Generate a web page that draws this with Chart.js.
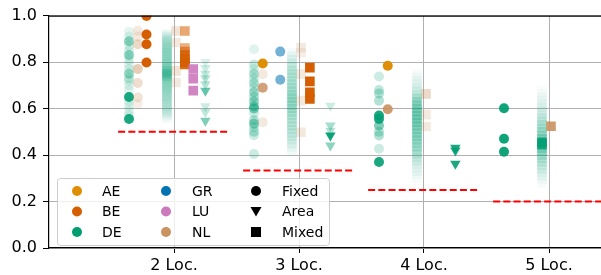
<!DOCTYPE html>
<html>
<head>
<meta charset="utf-8">
<script src="https://cdn.jsdelivr.net/npm/chart.js@4"></script>
<style>
  html, body { margin: 0; padding: 0; background: #fff; }
  canvas { display: block; }
</style>
</head>
<body>
<canvas id="chart" width="601" height="275"></canvas>
<script>
// x categories (number of locations) and their tick labels
const locCounts = [2, 3, 4, 5];
const xTickLabels = ['2 Loc.', '3 Loc.', '4 Loc.', '5 Loc.'];
const yTicks = [0, 0.2, 0.4, 0.6, 0.8, 1.0];

// expected share 1/n, shown as red dashed lines
const baselineShare = [0.5, 0.333, 0.25, 0.2];

// values per location group (2,3,4,5 Loc.) and their weights (read as opacity)
const deFixed = [
  [0.93, 0.91, 0.89, 0.87, 0.85, 0.83, 0.81, 0.79, 0.77, 0.75, 0.73, 0.72, 0.70, 0.68, 0.65, 0.63, 0.61, 0.59, 0.57, 0.555],
  [0.855, 0.79, 0.77, 0.75, 0.73, 0.71, 0.69, 0.67, 0.65, 0.63, 0.61, 0.60, 0.58, 0.55, 0.535, 0.52, 0.50, 0.485, 0.405],
  [0.738, 0.68, 0.665, 0.634, 0.57, 0.555, 0.527, 0.50, 0.484, 0.427, 0.37],
  [0.601, 0.47, 0.414]
];
const deFixedW = [
  [0.1, 0.12, 0.45, 0.15, 0.15, 0.45, 0.15, 0.12, 0.15, 0.4, 0.2, 0.15, 0.12, 0.12, 0.9, 0.15, 0.12, 0.12, 0.15, 0.9],
  [0.12, 0.2, 0.15, 0.3, 0.2, 0.3, 0.2, 0.35, 0.3, 0.4, 0.45, 0.5, 0.2, 0.3, 0.45, 0.2, 0.3, 0.2, 0.2],
  [0.2, 0.25, 0.3, 0.3, 0.9, 0.9, 0.5, 0.3, 0.3, 0.2, 0.9],
  [0.95, 0.95, 0.95]
];
const aeFixed = [[], [0.794], [0.784], []];
const aeFixedW = [[], [1], [1], []];
const nlFixed = [
  [0.935, 0.91, 0.877, 0.77, 0.71, 0.648, 0.62],
  [0.748, 0.69, 0.541],
  [0.597],
  []
];
const nlFixedW = [
  [0.2, 0.2, 0.35, 0.45, 0.3, 0.25, 0.15],
  [0.2, 0.85, 0.2],
  [0.9],
  []
];
const beFixed = [[0.998, 0.919, 0.877, 0.798], [], [], []];
const beFixedW = [[1, 1, 1, 1], [], [], []];
const grFixed = [[], [0.845, 0.724], [], []];
const grFixedW = [[], [0.55, 0.55], [], []];

const deMixed = [
  [0.92, 0.91, 0.90, 0.89, 0.88, 0.87, 0.86, 0.85, 0.84, 0.83, 0.82, 0.81, 0.80, 0.79, 0.78, 0.77, 0.76, 0.75, 0.74, 0.73, 0.72, 0.71, 0.70, 0.69, 0.68, 0.67, 0.66, 0.65, 0.64, 0.63, 0.62, 0.61, 0.60, 0.59, 0.58, 0.57, 0.56],
  [0.84, 0.825, 0.81, 0.795, 0.78, 0.765, 0.75, 0.735, 0.72, 0.705, 0.69, 0.675, 0.66, 0.645, 0.63, 0.615, 0.60, 0.585, 0.57, 0.555, 0.54, 0.525, 0.51, 0.495, 0.48, 0.465, 0.45, 0.435, 0.42],
  [0.75, 0.735, 0.72, 0.705, 0.69, 0.675, 0.66, 0.645, 0.63, 0.615, 0.60, 0.585, 0.57, 0.555, 0.54, 0.525, 0.51, 0.495, 0.48, 0.465, 0.45, 0.435, 0.42, 0.405, 0.39, 0.375, 0.36, 0.345, 0.33, 0.315, 0.30],
  [0.68, 0.665, 0.65, 0.635, 0.62, 0.605, 0.59, 0.575, 0.56, 0.545, 0.53, 0.515, 0.50, 0.485, 0.47, 0.455, 0.445, 0.43, 0.415, 0.40, 0.385, 0.37, 0.355, 0.34, 0.325, 0.31, 0.295, 0.28]
];
const deMixedW = [
  [0.08, 0.1, 0.1, 0.12, 0.12, 0.15, 0.15, 0.15, 0.15, 0.15, 0.15, 0.15, 0.15, 0.15, 0.2, 0.2, 0.3, 0.35, 0.3, 0.2, 0.15, 0.15, 0.15, 0.15, 0.15, 0.12, 0.12, 0.12, 0.12, 0.1, 0.1, 0.1, 0.1, 0.08, 0.08, 0.06, 0.05],
  [0.04, 0.06, 0.08, 0.1, 0.12, 0.14, 0.15, 0.15, 0.15, 0.16, 0.18, 0.18, 0.2, 0.22, 0.22, 0.2, 0.2, 0.18, 0.16, 0.15, 0.15, 0.14, 0.14, 0.12, 0.12, 0.1, 0.08, 0.06, 0.05],
  [0.03, 0.04, 0.05, 0.06, 0.08, 0.1, 0.12, 0.2, 0.25, 0.25, 0.28, 0.3, 0.3, 0.3, 0.3, 0.28, 0.25, 0.25, 0.25, 0.22, 0.2, 0.2, 0.18, 0.15, 0.12, 0.1, 0.08, 0.06, 0.05, 0.04, 0.03],
  [0.02, 0.03, 0.04, 0.05, 0.06, 0.07, 0.08, 0.1, 0.12, 0.14, 0.16, 0.18, 0.2, 0.25, 0.3, 0.95, 0.9, 0.3, 0.25, 0.2, 0.18, 0.15, 0.12, 0.1, 0.08, 0.06, 0.04, 0.03]
];
const nlMixed = [
  [0.934, 0.884, 0.762, 0.712],
  [0.862, 0.84, 0.748, 0.634, 0.498],
  [0.663, 0.574, 0.523],
  [0.524]
];
const nlMixedW = [
  [0.25, 0.2, 0.25, 0.2],
  [0.2, 0.15, 0.2, 0.2, 0.2],
  [0.35, 0.2, 0.2],
  [0.9]
];
const beMixed = [
  [0.934, 0.86, 0.845, 0.83, 0.815, 0.80, 0.79],
  [0.776, 0.717, 0.67, 0.641],
  [],
  []
];
const beMixedW = [
  [0.55, 0.5, 0.6, 0.8, 0.8, 0.9, 0.9],
  [1, 1, 1, 1],
  [],
  []
];
const luMixed = [[0.77, 0.728, 0.677], [], [], []];
const luMixedW = [[0.9, 0.9, 0.9], [], [], []];

const deArea = [
  [0.80, 0.775, 0.75, 0.73, 0.705, 0.677, 0.61, 0.585, 0.548],
  [0.612, 0.527, 0.505, 0.484, 0.441],
  [0.431, 0.42, 0.363],
  []
];
const deAreaW = [
  [0.15, 0.2, 0.25, 0.3, 0.3, 0.6, 0.2, 0.25, 0.5],
  [0.2, 0.35, 0.3, 0.95, 0.45],
  [0.9, 0.9, 0.9],
  []
];

// styling
const countryColors = {
  AE: '#de8f05', BE: '#d55e00', DE: '#029e73',
  GR: '#0173b2', LU: '#cc78bc', NL: '#ca9161'
};
const typeStyle = {
  Fixed: { pointStyle: 'circle', radius: 5, rotation: 0 },
  Area: { pointStyle: 'triangle', radius: 6, rotation: 180 },
  Mixed: { pointStyle: 'rect', radius: 6.8, rotation: 0 }
};
// horizontal shift of each column inside a location group
const columnShift = {
  Fixed: { DE: -0.36, AE: -0.29, NL: -0.29, BE: -0.22, GR: -0.15 },
  Mixed: { DE: -0.056, NL: 0.016, BE: 0.087, LU: 0.154 },
  Area: { DE: 0.251 }
};
const baselineHalfWidth = 0.447;

const series = [
  { country: 'DE', type: 'Fixed', values: deFixed, weights: deFixedW },
  { country: 'NL', type: 'Fixed', values: nlFixed, weights: nlFixedW },
  { country: 'AE', type: 'Fixed', values: aeFixed, weights: aeFixedW },
  { country: 'BE', type: 'Fixed', values: beFixed, weights: beFixedW },
  { country: 'GR', type: 'Fixed', values: grFixed, weights: grFixedW },
  { country: 'DE', type: 'Mixed', values: deMixed, weights: deMixedW },
  { country: 'NL', type: 'Mixed', values: nlMixed, weights: nlMixedW },
  { country: 'BE', type: 'Mixed', values: beMixed, weights: beMixedW },
  { country: 'LU', type: 'Mixed', values: luMixed, weights: luMixedW },
  { country: 'DE', type: 'Area', values: deArea, weights: deAreaW }
];

function rgba(hex, a) {
  const n = parseInt(hex.slice(1), 16);
  return `rgba(${(n >> 16) & 255}, ${(n >> 8) & 255}, ${n & 255}, ${a})`;
}

const datasets = [];

// red dashed 1/n lines
locCounts.forEach((loc, i) => {
  datasets.push({
    type: 'line',
    data: [
      { x: loc - baselineHalfWidth, y: baselineShare[i] },
      { x: loc + baselineHalfWidth, y: baselineShare[i] }
    ],
    borderColor: '#ff0000',
    borderWidth: 2,
    borderDash: [7, 3.2],
    pointRadius: 0,
    fill: false
  });
});

// scatter columns (later in list = drawn first)
series.slice().reverse().forEach(s => {
  const pts = [];
  const colors = [];
  s.values.forEach((vals, i) => {
    vals.forEach((v, j) => {
      pts.push({ x: locCounts[i] + columnShift[s.type][s.country], y: v });
      colors.push(rgba(countryColors[s.country], s.weights[i][j]));
    });
  });
  const st = typeStyle[s.type];
  datasets.push({
    type: 'scatter',
    data: pts,
    pointBackgroundColor: colors,
    pointBorderWidth: 0,
    pointBorderColor: 'rgba(0,0,0,0)',
    pointRadius: st.radius,
    pointStyle: st.pointStyle,
    pointRotation: st.rotation
  });
});

const legendCountries = [['AE', 'BE', 'DE'], ['GR', 'LU', 'NL']];
const legendTypes = ['Fixed', 'Area', 'Mixed'];

const boxLegend = {
  id: 'boxLegend',
  afterDatasetsDraw(chart) {
    const ctx = chart.ctx;
    const area = chart.chartArea;
    ctx.save();
    // top spine
    ctx.strokeStyle = '#000';
    ctx.lineWidth = 1.2;
    ctx.beginPath();
    ctx.moveTo(area.left, area.top + 0.5);
    ctx.lineTo(area.right, area.top + 0.5);
    ctx.stroke();

    // legend frame
    const bx = 57.5, by = 178.5, bw = 272, bh = 67, r = 3;
    ctx.beginPath();
    ctx.moveTo(bx + r, by);
    ctx.arcTo(bx + bw, by, bx + bw, by + bh, r);
    ctx.arcTo(bx + bw, by + bh, bx, by + bh, r);
    ctx.arcTo(bx, by + bh, bx, by, r);
    ctx.arcTo(bx, by, bx + bw, by, r);
    ctx.closePath();
    ctx.fillStyle = 'rgba(255,255,255,0.8)';
    ctx.fill();
    ctx.strokeStyle = '#cccccc';
    ctx.lineWidth = 1;
    ctx.stroke();

    const rows = [191, 211.5, 232];
    const markerX = [77, 166, 256];
    const textX = [102, 192, 282];
    ctx.font = '14px "DejaVu Sans"';
    ctx.textBaseline = 'middle';
    ctx.textAlign = 'left';

    legendCountries.forEach((col, c) => {
      col.forEach((country, k) => {
        ctx.fillStyle = countryColors[country];
        ctx.beginPath();
        ctx.arc(markerX[c], rows[k], 5, 0, Math.PI * 2);
        ctx.fill();
        ctx.fillStyle = '#000';
        ctx.fillText(country, textX[c], rows[k] + 1);
      });
    });

    legendTypes.forEach((t, k) => {
      const x = markerX[2], y = rows[k];
      ctx.fillStyle = '#000';
      ctx.beginPath();
      if (t === 'Fixed') {
        ctx.arc(x, y, 5, 0, Math.PI * 2);
      } else if (t === 'Area') {
        ctx.moveTo(x - 5.5, y - 4.5);
        ctx.lineTo(x + 5.5, y - 4.5);
        ctx.lineTo(x, y + 5);
        ctx.closePath();
      } else {
        ctx.rect(x - 5, y - 5, 10, 10);
      }
      ctx.fill();
      ctx.fillText(t, textX[2], y + 1);
    });
    ctx.restore();
  }
};

new Chart(document.getElementById('chart').getContext('2d'), {
  type: 'scatter',
  data: { datasets },
  options: {
    responsive: false,
    animation: false,
    events: [],
    layout: { padding: { top: 14, left: 0, right: 0, bottom: 0 }, autoPadding: false },
    plugins: { legend: { display: false }, tooltip: { enabled: false } },
    scales: {
      x: {
        type: 'linear',
        min: 1,
        max: 5.416,
        afterBuildTicks: scale => { scale.ticks = locCounts.map(v => ({ value: v })); },
        afterFit: scale => { scale.height = 27; },
        ticks: {
          color: '#000',
          font: { family: 'DejaVu Sans', size: 16 },
          padding: 3,
          maxRotation: 0,
          callback: v => xTickLabels[locCounts.indexOf(v)]
        },
        grid: { color: '#b0b0b0', lineWidth: 1, tickColor: '#000', tickLength: 5, tickWidth: 1 },
        border: { color: '#000', width: 1.2 }
      },
      y: {
        min: 0,
        max: 1,
        afterBuildTicks: scale => { scale.ticks = yTicks.map(v => ({ value: v })); },
        afterFit: scale => { scale.width = 49; },
        ticks: {
          color: '#000',
          font: { family: 'DejaVu Sans', size: 16 },
          padding: 6,
          callback: v => v.toFixed(1)
        },
        grid: { color: '#b0b0b0', lineWidth: 1, tickColor: '#000', tickLength: 6, tickWidth: 1 },
        border: { color: '#000', width: 1.2 }
      }
    }
  },
  plugins: [boxLegend]
});
</script>
</body>
</html>
